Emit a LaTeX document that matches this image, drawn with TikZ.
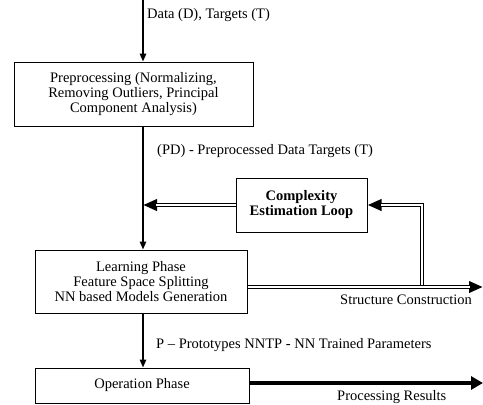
\documentclass[tikz,border=0pt]{standalone}
\usepackage{fontspec}
\setmainfont{Liberation Serif}
\usetikzlibrary{arrows.meta}

\tikzset{
  phasebox/.style={draw, line width=1pt, align=center, inner sep=0pt,
    font=\fontsize{14.5}{15}\selectfont},
  flowlabel/.style={anchor=west, inner sep=0pt, font=\fontsize{14.5}{15}\selectfont},
  flow/.style={line width=1.4pt, -{Triangle[length=8pt,width=6.5pt]}},
  loopflow/.style={line width=3.6pt, -{Triangle[length=14pt,width=11pt]},
    postaction={draw=white, line width=1.6pt, -, shorten >=13pt}},
  buildflow/.style={loopflow, line width=4.6pt},
  resultflow/.style={line width=4.5pt, -{Triangle[length=12pt,width=13pt]}},
}

\begin{document}
\begin{tikzpicture}[x=1pt,y=-1pt]
  \useasboundingbox (0,0) rectangle (483,405);

  % boxes
  \node[phasebox, minimum width=239pt, minimum height=64pt] (prep) at (133.5,94)
    {Preprocessing (Normalizing,\\ Removing Outliers, Principal\\ Component Analysis)};
  \node[phasebox, minimum width=131pt, minimum height=54pt,
    font=\fontsize{14.5}{15}\selectfont\bfseries]
    (cplx) at (301.5,205) {Complexity\\ Estimation Loop};
  \node[phasebox, minimum width=212pt, minimum height=63pt] (learn) at (141,281.5)
    {Learning Phase\\ Feature Space Splitting\\ NN based Models Generation};
  \node[phasebox, minimum width=214pt, minimum height=35pt] (oper) at (142,385.5)
    {Operation Phase};

  \coordinate (input) at (143,0);
  \coordinate (split) at (422,287);
  \coordinate (sc) at (483,287);
  \coordinate (pr) at (483,383);

  % main flow
  \draw[flow] (input) -- (input |- prep.north);
  \draw[flow] (prep.south -| input) -- (learn.north -| input);
  \draw[flow] (learn.south -| input) -- (oper.north -| input);

  % loop
  \draw[loopflow] (cplx.west) -- (cplx.west -| input);
  \draw[loopflow] (split) |- (cplx.east);
  \draw[buildflow] (learn.east |- split) -- (sc);
  \draw[resultflow] (oper.east |- pr) -- (pr);

  % labels
  \node[flowlabel] (lbldata) at (147,15) {Data (D), Targets (T)};
  \node[flowlabel] (lblpd) at (157,151) {(PD) - Preprocessed Data Targets (T)};
  \node[flowlabel] (lblsc) at (340,300) {Structure Construction};
  \node[flowlabel] (lblp) at (156,345) {P -- Prototypes NNTP - NN Trained Parameters};
  \node[flowlabel] (lblpr) at (337,397) {Processing Results};
\end{tikzpicture}
\end{document}
